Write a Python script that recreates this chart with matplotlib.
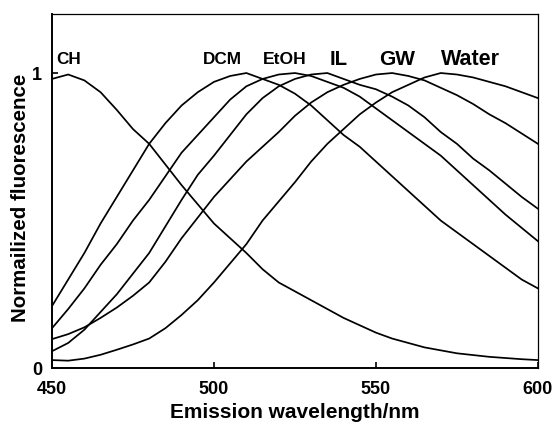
import matplotlib
matplotlib.use("Agg")
import matplotlib.pyplot as plt

# Emission wavelengths (nm)
wavelength = [450, 455, 460, 465, 470, 475, 480, 485, 490, 495, 500,
              505, 510, 515, 520, 525, 530, 535, 540, 545, 550,
              555, 560, 565, 570, 575, 580, 585, 590, 595, 600]

# Normalized emission spectra in each medium
ch = [0.98, 0.995, 0.975, 0.935, 0.875, 0.81, 0.76, 0.69, 0.62, 0.555, 0.49,
      0.44, 0.39, 0.335, 0.29, 0.26, 0.23, 0.20, 0.17, 0.145, 0.12,
      0.10, 0.085, 0.07, 0.06, 0.05, 0.044, 0.038, 0.034, 0.03, 0.027]
dcm = [0.21, 0.30, 0.39, 0.49, 0.58, 0.67, 0.76, 0.83, 0.89, 0.935, 0.97,
       0.99, 1.0, 0.98, 0.96, 0.93, 0.89, 0.84, 0.79, 0.75, 0.70,
       0.65, 0.60, 0.55, 0.50, 0.46, 0.42, 0.38, 0.34, 0.30, 0.27]
etoh = [0.135, 0.20, 0.27, 0.35, 0.42, 0.50, 0.57, 0.65, 0.73, 0.79, 0.85,
        0.91, 0.955, 0.98, 0.995, 1.0, 0.99, 0.97, 0.95, 0.92, 0.88,
        0.84, 0.80, 0.76, 0.72, 0.67, 0.62, 0.57, 0.52, 0.475, 0.43]
il = [0.057, 0.085, 0.13, 0.19, 0.25, 0.32, 0.39, 0.48, 0.57, 0.655, 0.72,
      0.79, 0.86, 0.915, 0.955, 0.98, 0.995, 1.0, 0.98, 0.96, 0.945,
      0.92, 0.89, 0.85, 0.80, 0.76, 0.71, 0.67, 0.625, 0.58, 0.54]
gw = [0.098, 0.115, 0.138, 0.17, 0.205, 0.245, 0.29, 0.36, 0.44, 0.51, 0.58,
      0.64, 0.70, 0.75, 0.80, 0.855, 0.90, 0.935, 0.96, 0.98, 0.995,
      1.0, 0.99, 0.975, 0.95, 0.925, 0.895, 0.86, 0.83, 0.795, 0.76]
water = [0.027, 0.025, 0.032, 0.045, 0.062, 0.08, 0.10, 0.135, 0.18, 0.23, 0.29,
         0.355, 0.42, 0.50, 0.565, 0.63, 0.70, 0.76, 0.81, 0.86, 0.90,
         0.935, 0.96, 0.985, 1.0, 0.995, 0.985, 0.97, 0.955, 0.935, 0.915]

spectra = [ch, dcm, etoh, il, gw, water]

# Medium labels and where they sit above the peaks
names = ["CH", "DCM", "EtOH", "IL", "GW", "Water"]
name_x = [451.2, 502.5, 522.0, 538.4, 556.6, 579.2]
name_size = [12.3, 12.3, 12.6, 14.7, 15.0, 15.5]

xticks = [450, 500, 550, 600]
yticks = [0, 1]

plt.rcParams["font.family"] = ["Liberation Sans", "DejaVu Sans"]
plt.rcParams["font.weight"] = "bold"

fig = plt.figure(figsize=(5.56, 4.25), dpi=100)
ax = fig.add_axes([0.0935, 0.134, 0.874, 0.833])

for s in spectra:
    ax.plot(wavelength, s, color="black", lw=1.25)

for i, n in enumerate(names):
    ha = "left" if i == 0 else "center"
    ax.text(name_x[i], 1.047, n, ha=ha, va="center",
            fontsize=name_size[i], fontweight="bold")

ax.set_xlim(450, 600)
ax.set_ylim(0, 1.2)
ax.set_xticks(xticks)
ax.set_yticks(yticks)
ax.tick_params(direction="in", length=4, width=1.2)
ax.tick_params(axis="x", pad=9, labelsize=13)
ax.tick_params(axis="y", pad=7, labelsize=13)
for lab in ax.get_xticklabels() + ax.get_yticklabels():
    lab.set_fontweight("bold")

for side in ["left", "bottom"]:
    ax.spines[side].set_linewidth(1.4)
for side in ["top", "right"]:
    ax.spines[side].set_linewidth(0.9)

ax.set_xlabel("Emission wavelength/nm", fontsize=15, fontweight="bold", labelpad=4)
ax.set_ylabel("Normailized fluorescence", fontsize=14.8, fontweight="bold")
ax.yaxis.set_label_coords(-0.046, 0.48)

fig.savefig("out.png", dpi=100)
